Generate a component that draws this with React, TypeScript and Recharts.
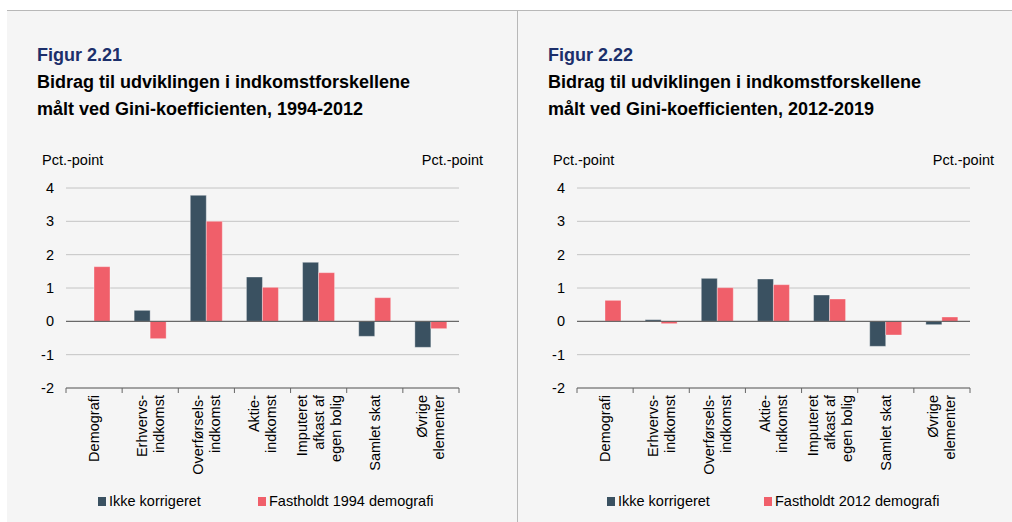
import { BarChart, Bar, XAxis, YAxis, CartesianGrid, ReferenceLine } from "recharts";

// Kategorier og værdier aflæst fra figurerne
const categories = [
  "Demografi",
  "Erhvervs-\nindkomst",
  "Overførsels-\nindkomst",
  "Aktie-\nindkomst",
  "Imputeret\nafkast af\negen bolig",
  "Samlet skat",
  "Øvrige\nelementer",
];

const ikkeKorrigeret9412 = [0, 0.33, 3.78, 1.33, 1.77, -0.45, -0.78];
const fastholdt1994 = [1.64, -0.52, 3.0, 1.02, 1.46, 0.71, -0.22];

const ikkeKorrigeret1219 = [0, 0.05, 1.29, 1.27, 0.79, -0.75, -0.1];
const fastholdt2012 = [0.63, -0.07, 1.01, 1.1, 0.67, -0.41, 0.13];

const yTicks = [-2, -1, 0, 1, 2, 3, 4];

const DARK = "#3a5161";
const RED = "#f05f6a";
const FONT = '"Liberation Sans", Arial, sans-serif';

function CategoryTick(props: any) {
  const { x, y, payload } = props;
  const half = payload?.offset ?? 28;
  const lines = String(payload.value).split("\n");
  const n = lines.length;
  return (
    <g>
      <line x1={x - half} y1={y} x2={x - half} y2={y + 5} stroke="#666" />
      {payload.index === categories.length - 1 && (
        <line x1={x + half} y1={y} x2={x + half} y2={y + 5} stroke="#666" />
      )}
      {lines.map((t, i) => {
        const lx = x + (i - (n - 1) / 2) * 17;
        const ly = y + 7;
        return (
          <text
            key={i}
            x={lx}
            y={ly}
            dy="0.35em"
            textAnchor="end"
            transform={`rotate(-90, ${lx}, ${ly})`}
            fontSize={14.5}
            fill="#000"
            fontFamily={FONT}
          >
            {t}
          </text>
        );
      })}
    </g>
  );
}

interface PanelProps {
  left: number;
  figur: string;
  period: string;
  ikke: number[];
  fast: number[];
  fastLabel: string;
  legendX: [number, number];
}

function Panel({ left, figur, period, ikke, fast, fastLabel, legendX }: PanelProps) {
  const data = categories.map((c, i) => ({ name: c, ikke: ikke[i], fast: fast[i] }));
  const tickStyle = { fontSize: 14.5, fill: "#000", fontFamily: FONT };
  return (
    <>
      <div style={{ position: "absolute", left: left + 37, top: 42, lineHeight: "27px", fontSize: 18, fontWeight: 700 }}>
        <div style={{ color: "#1c2f6b" }}>{figur}</div>
        <div>Bidrag til udviklingen i indkomstforskellene</div>
        <div>målt ved Gini-koefficienten, {period}</div>
      </div>
      <div style={{ position: "absolute", left: left + 42, top: 152, fontSize: 14.5 }}>Pct.-point</div>
      <div style={{ position: "absolute", left: left + 383, width: 100, textAlign: "right", top: 152, fontSize: 14.5 }}>
        Pct.-point
      </div>
      <div style={{ position: "absolute", left: left, top: 140 }}>
        <BarChart
          width={500}
          height={340}
          data={data}
          margin={{ top: 48, right: 11, bottom: 2, left: 26 }}
          barSize={16}
          barGap={0}
        >
          <CartesianGrid vertical={false} stroke="#c4c4c4" yAxisId="l" />
          <XAxis
            dataKey="name"
            interval={0}
            height={90}
            tickSize={0}
            tickMargin={0}
            tickLine={false}
            axisLine={{ stroke: "#666" }}
            tick={<CategoryTick />}
          />
          <YAxis
            yAxisId="l"
            domain={[-2, 4]}
            ticks={yTicks}
            width={40}
            axisLine={false}
            tickLine={false}
            tickSize={0}
            tickMargin={12}
            tick={tickStyle}
          />
          <YAxis
            yAxisId="r"
            orientation="right"
            domain={[-2, 4]}
            ticks={yTicks}
            width={30}
            axisLine={false}
            tickLine={false}
            tickSize={0}
            tickMargin={4}
            tick={tickStyle}
          />
          <ReferenceLine y={0} yAxisId="l" stroke="#555" />
          <Bar dataKey="ikke" yAxisId="l" fill={DARK} stroke="#ffffff" strokeOpacity={0.35} isAnimationActive={false} />
          <Bar dataKey="fast" yAxisId="l" fill={RED} stroke="#ffffff" strokeOpacity={0.35} isAnimationActive={false} />
        </BarChart>
      </div>
      <div style={{ position: "absolute", top: 493, left: left + legendX[0], fontSize: 14.5, display: "flex", alignItems: "center" }}>
        <span style={{ width: 8, height: 9, background: DARK, display: "inline-block", marginRight: 3 }} />
        Ikke korrigeret
      </div>
      <div style={{ position: "absolute", top: 493, left: left + legendX[1], fontSize: 14.5, display: "flex", alignItems: "center" }}>
        <span style={{ width: 8, height: 9, background: RED, display: "inline-block", marginRight: 3 }} />
        {fastLabel}
      </div>
    </>
  );
}

export default function App() {
  return (
    <div
      style={{
        position: "absolute",
        left: 0,
        top: 0,
        width: 1012,
        height: 522,
        background: "#fff",
        fontFamily: FONT,
        color: "#000",
        overflow: "hidden",
      }}
    >
      <div style={{ position: "absolute", left: 7, top: 10, right: 0, bottom: 0, background: "#f5f5f5", borderTop: "1px solid #b8b8b8" }} />
      <div style={{ position: "absolute", left: 517, top: 10, width: 1, bottom: 0, background: "#b8b8b8" }} />
      <Panel
        left={0}
        figur="Figur 2.21"
        period="1994-2012"
        ikke={ikkeKorrigeret9412}
        fast={fastholdt1994}
        fastLabel="Fastholdt 1994 demografi"
        legendX={[98, 258]}
      />
      <Panel
        left={511}
        figur="Figur 2.22"
        period="2012-2019"
        ikke={ikkeKorrigeret1219}
        fast={fastholdt2012}
        fastLabel="Fastholdt 2012 demografi"
        legendX={[96, 253]}
      />
    </div>
  );
}
